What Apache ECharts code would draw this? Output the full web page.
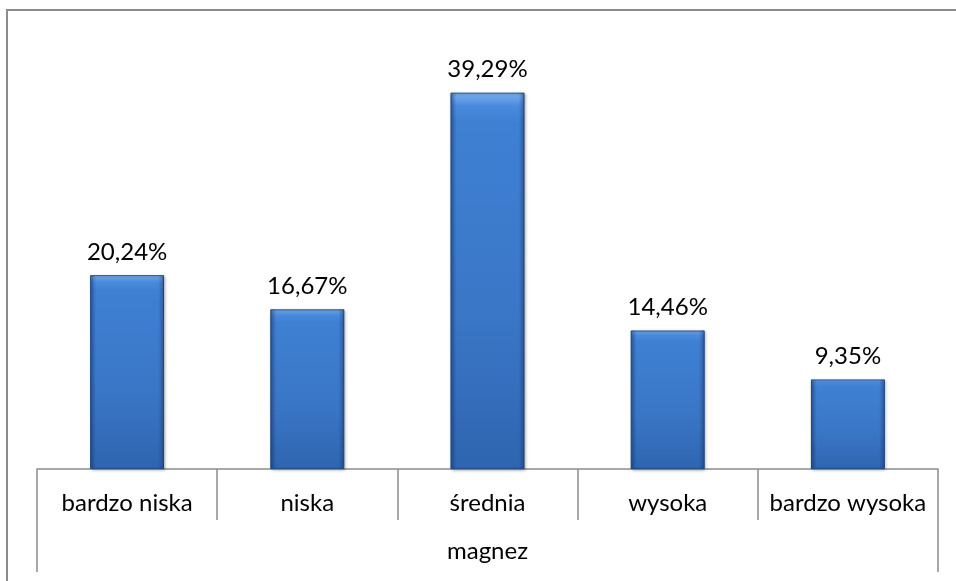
<!DOCTYPE html>
<html>
<head>
<meta charset="utf-8">
<script src="https://cdn.jsdelivr.net/npm/echarts@6/dist/echarts.min.js"></script>
<style>
html,body{margin:0;padding:0;background:#fff;}
#c{width:956px;height:581px;}
</style>
</head>
<body>
<div id="c"></div>
<script>
var categories = ['bardzo niska', 'niska', 'średnia', 'wysoka', 'bardzo wysoka'];
var values = [20.24, 16.67, 39.29, 14.46, 9.35];
var groupLabel = ['magnez'];

var FONT = 'Lato';
var FS = 24;
var chart = echarts.init(document.getElementById('c'));
chart.setOption({
  animation: false,
  backgroundColor: '#fff',
  grid: { left: 37, right: 18, top: 38, bottom: 112 },
  graphic: [{
    type: 'rect', silent: true,
    shape: { x: 7, y: 10, width: 1100, height: 1100 },
    style: { fill: 'none', stroke: '#8c8c8c', lineWidth: 2 }
  }],
  xAxis: [{
    type: 'category', data: categories, position: 'bottom',
    axisLine: { show: true, lineStyle: { color: '#8c8c8c', width: 1.5 } },
    axisTick: { show: true, interval: 0, length: 51, lineStyle: { color: '#8c8c8c', width: 1.5 } },
    axisLabel: { interval: 0, hideOverlap: false, color: '#000', fontFamily: FONT, fontSize: FS, margin: 22 }
  }, {
    type: 'category', data: groupLabel, position: 'bottom',
    axisLine: { show: false },
    axisTick: { show: true, interval: 0, length: 103, lineStyle: { color: '#8c8c8c', width: 1.5 } },
    axisLabel: { interval: 0, color: '#000', fontFamily: FONT, fontSize: FS, margin: 70 }
  }],
  yAxis: { type: 'value', min: 0, max: 45, show: false, splitLine: { show: false } },
  series: [{
    type: 'bar', xAxisIndex: 0, data: values, barWidth: '41%',
    itemStyle: {
      borderColor: '#24528f', borderWidth: 1,
      color: new echarts.graphic.LinearGradient(0, 0, 0, 1, [
        { offset: 0, color: '#7db3f0' },
        { offset: 0.035, color: '#4a8ade' },
        { offset: 0.08, color: '#3f80d3' },
        { offset: 0.6, color: '#3a76c6' },
        { offset: 1, color: '#2f65b0' }
      ]),
      shadowColor: 'rgba(0,0,0,0.3)', shadowBlur: 3, shadowOffsetX: 1, shadowOffsetY: 1
    },
    label: {
      show: true, position: 'top', distance: 11, color: '#000', fontFamily: FONT, fontSize: FS,
      formatter: function (p) { return p.value.toFixed(2).replace('.', ',') + '%'; }
    }
  }, {
    type: 'bar', xAxisIndex: 0, data: values, barWidth: '41%', barGap: '-100%', silent: true,
    itemStyle: {
      color: new echarts.graphic.LinearGradient(0, 0, 1, 0, [
        { offset: 0, color: 'rgba(20,50,100,0.45)' },
        { offset: 0.08, color: 'rgba(20,50,100,0.0)' },
        { offset: 0.92, color: 'rgba(20,50,100,0.0)' },
        { offset: 1, color: 'rgba(20,50,100,0.45)' }
      ])
    }
  }]
});
</script>
</body>
</html>
